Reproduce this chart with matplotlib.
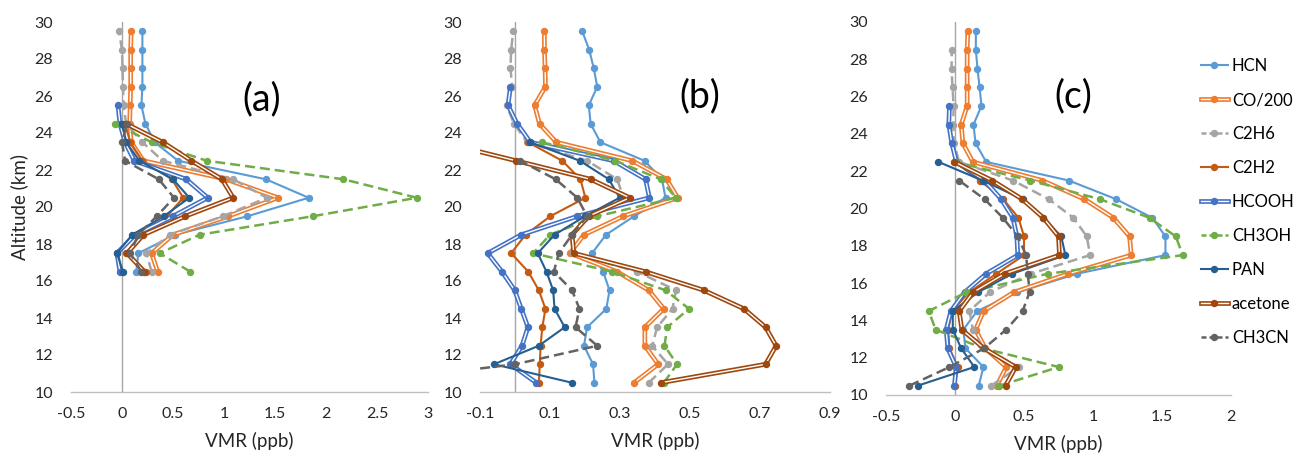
import matplotlib
matplotlib.use("Agg")
import matplotlib.pyplot as plt
from matplotlib.lines import Line2D
from matplotlib.legend_handler import HandlerTuple

plt.rcParams['font.family'] = ['Lato', 'DejaVu Sans']
plt.rcParams['axes.unicode_minus'] = False

# altitudes (km), bottom to top
alt_a = [16.5, 17.5, 18.5, 19.5, 20.5, 21.5, 22.5, 23.5, 24.5, 25.5, 26.5, 27.5, 28.5, 29.5]
alt_bc = [10.5, 11.5, 12.5, 13.5, 14.5, 15.5, 16.5, 17.5, 18.5, 19.5,
          20.5, 21.5, 22.5, 23.5, 24.5, 25.5, 26.5, 27.5, 28.5, 29.5]

names = ['HCN', 'CO/200', 'C2H6', 'C2H2', 'HCOOH', 'CH3OH', 'PAN', 'acetone', 'CH3CN']

# panel (a), VMR in ppb, from lowest altitude upward
a_hcn = [0.14, 0.16, 0.52, 1.23, 1.83, 1.41, 0.55, 0.32, 0.23, 0.19, 0.20, 0.20, 0.20, 0.20]
a_co = [0.35, 0.29, 0.50, 1.04, 1.53, 1.02, 0.21, 0.09, 0.075, 0.08, 0.085, 0.085, 0.085, 0.09]
a_c2h6 = [0.29, 0.24, 0.47, 0.99, 1.42, 1.09, 0.40, 0.20, 0.04, 0.015, 0.01, 0.005, 0.0, -0.03]
a_c2h2 = [0.24, 0.04, 0.18, 0.44, 0.60, 0.49, 0.20, 0.08, 0.03]
a_hcooh = [-0.02, -0.05, 0.13, 0.50, 0.84, 0.63, 0.12, 0.03, -0.02, -0.04]
a_ch3oh = [0.67, 0.37, 0.76, 1.87, 2.89, 2.17, 0.83, 0.29, -0.07]
a_pan = [0.01, -0.05, 0.10, 0.41, 0.66, 0.50, 0.17, 0.04, 0.0]
a_acetone = [0.22, 0.05, 0.21, 0.62, 1.09, 0.98, 0.68, 0.40, 0.04]
a_ch3cn = [0.19, 0.08, 0.16, 0.34, 0.51, 0.36, 0.03, 0.0, 0.05]

# panel (b)
b_hcn = [0.227, 0.223, 0.197, 0.206, 0.261, 0.27, 0.252, 0.22, 0.26, 0.34,
         0.43, 0.42, 0.37, 0.244, 0.216, 0.211, 0.235, 0.225, 0.212, 0.192]
b_co = [0.34, 0.409, 0.371, 0.371, 0.425, 0.382, 0.292, 0.157, 0.197, 0.309,
        0.465, 0.433, 0.335, 0.118, 0.070, 0.056, 0.087, 0.086, 0.084, 0.084]
b_c2h6 = [0.382, 0.437, 0.392, 0.406, 0.45, 0.46, 0.349, 0.166, 0.16, 0.21,
          0.31, 0.292, 0.206, 0.035, -0.003, -0.024, -0.008, -0.013, -0.011, -0.005]
b_c2h2 = [0.068, 0.071, 0.073, 0.078, 0.087, 0.068, 0.038, -0.011, 0.03, 0.101,
          0.201, 0.187, 0.135, 0.037]
b_hcooh = [0.061, -0.013, 0.02, 0.037, 0.018, -0.001, -0.037, -0.078, 0.018, 0.178,
           0.384, 0.373, 0.282, 0.044, 0.006, -0.020, -0.013]
b_ch3oh = [0.425, 0.463, 0.427, 0.435, 0.497, 0.43, 0.278, 0.052, 0.10, 0.235,
           0.459, 0.416, 0.287, 0.078]
b_pan = [0.163, -0.06, 0.068, 0.142, 0.113, 0.109, 0.09, 0.065, 0.113, 0.20,
         0.299, 0.268, 0.185, 0.044]
b_acetone = [0.416, 0.716, 0.746, 0.716, 0.654, 0.539, 0.373, 0.168, 0.163, 0.21,
             0.328, 0.216, 0.003, -0.21]
b_ch3cn = [-0.44, 0.001, 0.235, 0.173, 0.184, 0.163, 0.111, 0.125, 0.163, 0.206,
           0.178, 0.116, 0.014]

# panel (c)
c_hcn = [0.172, 0.206, 0.076, 0.06, 0.16, 0.448, 0.883, 1.525, 1.525, 1.43,
         1.168, 0.825, 0.226, 0.149, 0.134, 0.192, 0.178, 0.163, 0.151, 0.151]
c_co = [0.303, 0.371, 0.22, 0.149, 0.207, 0.424, 0.82, 1.277, 1.265, 1.148,
        0.938, 0.633, 0.129, 0.057, 0.045, 0.088, 0.088, 0.088, 0.088, 0.093]
c_c2h6 = [0.262, 0.462, 0.206, 0.13, 0.105, 0.25, 0.55, 0.979, 0.955, 0.858,
          0.68, 0.42, 0.03, -0.008, -0.013, -0.01, -0.018, -0.025, -0.023]
c_c2h2 = [0.0, 0.02, -0.04, -0.05, -0.02, 0.10, 0.30, 0.50, 0.50, 0.46,
          0.35, 0.18, 0.0]
c_hcooh = [-0.004, 0.008, -0.052, -0.064, -0.03, 0.069, 0.226, 0.455, 0.448, 0.42,
           0.335, 0.213, 0.01, -0.023, -0.045, -0.04]
c_ch3oh = [0.322, 0.752, 0.206, -0.14, -0.19, 0.08, 0.673, 1.65, 1.60, 1.41,
           1.05, 0.545, 0.0]
c_pan = [-0.27, 0.14, 0.045, -0.016, -0.016, 0.165, 0.414, 0.80, 0.77, 0.64,
         0.49, 0.20, -0.12]
c_acetone = [0.366, 0.44, 0.21, 0.05, 0.03, 0.13, 0.359, 0.757, 0.75, 0.64,
             0.487, 0.27, -0.004]
c_ch3cn = [-0.33, -0.04, 0.21, 0.37, 0.49, 0.54, 0.528, 0.515, 0.455, 0.347,
           0.214, 0.03]

xticks_a = [-0.5, 0, 0.5, 1, 1.5, 2, 2.5, 3]
xticks_b = [-0.1, 0.1, 0.3, 0.5, 0.7, 0.9]
xticks_c = [-0.5, 0, 0.5, 1, 1.5, 2]
yticks = [10, 12, 14, 16, 18, 20, 22, 24, 26, 28, 30]

# style per series: colour, kind
styles = [('#5B9BD5', 'solid'), ('#ED7D31', 'double'), ('#A5A5A5', 'dash'),
          ('#C55A11', 'solid'), ('#4472C4', 'double'), ('#70AD47', 'dash'),
          ('#255E91', 'solid'), ('#9E480E', 'double'), ('#636363', 'dash')]

TXT = '#262626'
MS = 4.3


def draw_series(ax, x, y, color, kind):
    if kind == 'solid':
        ax.plot(x, y, color=color, lw=1.5, marker='o', ms=MS)
    elif kind == 'dash':
        ax.plot(x, y, color=color, lw=1.8, ls=(0, (4, 2)), marker='o', ms=MS)
    else:
        ax.plot(x, y, color=color, lw=3.4, solid_capstyle='butt')
        ax.plot(x, y, color='white', lw=1.0)
        ax.plot(x, y, ls='none', color=color, marker='o', ms=MS)


def setup(ax, xlim, xticks):
    ax.set_xlim(*xlim)
    ax.set_ylim(10, 30)
    ax.set_xticks(xticks)
    ax.set_xticklabels([('%g' % t) for t in xticks])
    ax.set_yticks(yticks)
    for s in ['top', 'right', 'left']:
        ax.spines[s].set_visible(False)
    ax.spines['bottom'].set_color('#BFBFBF')
    ax.spines['bottom'].set_linewidth(1.0)
    ax.axvline(0, color='#A6A6A6', lw=1.0, zorder=0.5)
    ax.tick_params(axis='both', length=0, labelsize=11.5, colors=TXT)
    ax.tick_params(axis='x', pad=11)
    ax.tick_params(axis='y', pad=13)
    ax.set_xlabel('VMR (ppb)', fontsize=13.5, color=TXT, labelpad=8)
    ax.patch.set_alpha(0)


fig = plt.figure(figsize=(12.95, 4.55), dpi=100)
ax_a = fig.add_axes([71 / 1295, 63 / 455, 357 / 1295, 370 / 455])
ax_b = fig.add_axes([480 / 1295, 63 / 455, 350 / 1295, 370 / 455])
ax_c = fig.add_axes([886 / 1295, 60 / 455, 345 / 1295, 373 / 455])

panel_a = [a_hcn, a_co, a_c2h6, a_c2h2, a_hcooh, a_ch3oh, a_pan, a_acetone, a_ch3cn]
panel_b = [b_hcn, b_co, b_c2h6, b_c2h2, b_hcooh, b_ch3oh, b_pan, b_acetone, b_ch3cn]
panel_c = [c_hcn, c_co, c_c2h6, c_c2h2, c_hcooh, c_ch3oh, c_pan, c_acetone, c_ch3cn]

for ax, data, alts in [(ax_a, panel_a, alt_a), (ax_b, panel_b, alt_bc), (ax_c, panel_c, alt_bc)]:
    for vals, (col, kind) in zip(data, styles):
        draw_series(ax, vals, alts[:len(vals)], col, kind)

setup(ax_a, (-0.5, 3), xticks_a)
setup(ax_b, (-0.1, 0.9), xticks_b)
setup(ax_c, (-0.5, 2), xticks_c)
ax_a.set_ylabel('Altitude (km)', fontsize=13.5, color=TXT, labelpad=4)

ax_a.text(0.535, 0.79, '(a)', transform=ax_a.transAxes, fontsize=27, ha='center', va='center', color='black')
ax_b.text(0.629, 0.80, '(b)', transform=ax_b.transAxes, fontsize=27, ha='center', va='center', color='black')
ax_c.text(0.542, 0.80, '(c)', transform=ax_c.transAxes, fontsize=27, ha='center', va='center', color='black')

# legend handles
handles = []
for col, kind in styles:
    if kind == 'solid':
        handles.append(Line2D([], [], color=col, lw=1.5, marker='o', ms=MS))
    elif kind == 'dash':
        handles.append(Line2D([], [], color=col, lw=1.8, ls=(0, (2, 1.2)), marker='o', ms=MS))
    else:
        handles.append((Line2D([], [], color=col, lw=3.4),
                        Line2D([], [], color='white', lw=1.0),
                        Line2D([], [], ls='none', color=col, marker='o', ms=MS)))

fig.legend(handles, names, loc='upper left', bbox_to_anchor=(1186 / 1295, 1 - 43 / 455),
           frameon=False, fontsize=12, handlelength=1.6, handletextpad=0.25,
           labelspacing=1.08, handler_map={tuple: HandlerTuple(ndivide=1, pad=0)})

fig.savefig('out.png', dpi=100)
